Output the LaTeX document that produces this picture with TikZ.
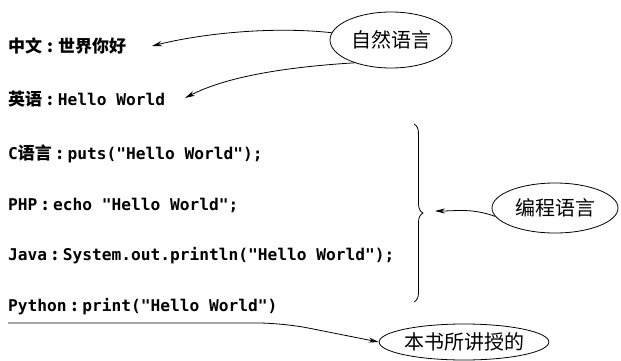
\documentclass[tikz,border=0pt]{standalone}
\usepackage{fontspec}
\setmonofont{DejaVu Sans Mono}
\newfontfamily\cjk{Noto Sans CJK SC}
\newfontfamily\cjkb{Noto Sans CJK SC Bold}
\usetikzlibrary{arrows.meta,decorations.pathreplacing,shapes.geometric}
\newcommand{\sepc}{\hspace{5pt}{\cjkb :}\hspace{5pt}}
\newcommand{\zhb}{\cjkb\fontsize{17}{19}\selectfont}
\begin{document}
\begin{tikzpicture}[x=1pt,y=1pt,
  lbl/.style={anchor=west,inner sep=0pt,font=\ttfamily\bfseries\fontsize{16.2}{18}\selectfont},
  oval/.style={draw,thick,ellipse,inner sep=0pt,font=\cjk\fontsize{20}{22}\selectfont},
  arr/.style={thick,-{Stealth[length=10pt,width=5pt]}}]
\useasboundingbox (0,0) rectangle (621,360);
\node[lbl] (zh) at (8,314) {\zhb 中文\sepc 世界你好};
\node[lbl] (en) at (8,261) {{\zhb 英语}\sepc Hello World};
\node[lbl] (c) at (8,206) {C{\zhb 语言}\sepc puts("Hello World");};
\node[lbl] (php) at (8,155) {PHP\sepc echo "Hello World";};
\node[lbl] (java) at (8,104) {Java\sepc System.out.println("Hello World");};
\node[lbl] (py) at (8,53) {Python\sepc print("Hello World")};

\node[oval,minimum width=122pt,minimum height=56pt] (nat) at (391,320) {自然语言};
\node[oval,minimum width=126pt,minimum height=50pt] (prog) at (555,152) {编程语言};
\node[oval,minimum width=132pt,minimum height=36pt] (book) at (464,18) {本书所讲授的};

\coordinate (bt) at (414,236);
\coordinate (bb) at (414,58);
\draw[thick,decorate,decoration={brace,amplitude=9pt}] (bt) -- (bb);
\coordinate (btip) at (435,149);

\coordinate (zhtip) at (152,314);
\coordinate (entip) at (185,262);
\draw[arr] (nat.173) .. controls (270,334) and (200,326) .. (zhtip);
\draw[arr] (nat.212) .. controls (270,292) and (220,280) .. (entip);
\draw[arr] (prog.188) .. controls (472,152) and (457,149) .. (btip);

\coordinate (ls) at (8,37);
\draw[arr,rounded corners=25pt] (ls) -- (283,37) -- (book.west);
\end{tikzpicture}
\end{document}
